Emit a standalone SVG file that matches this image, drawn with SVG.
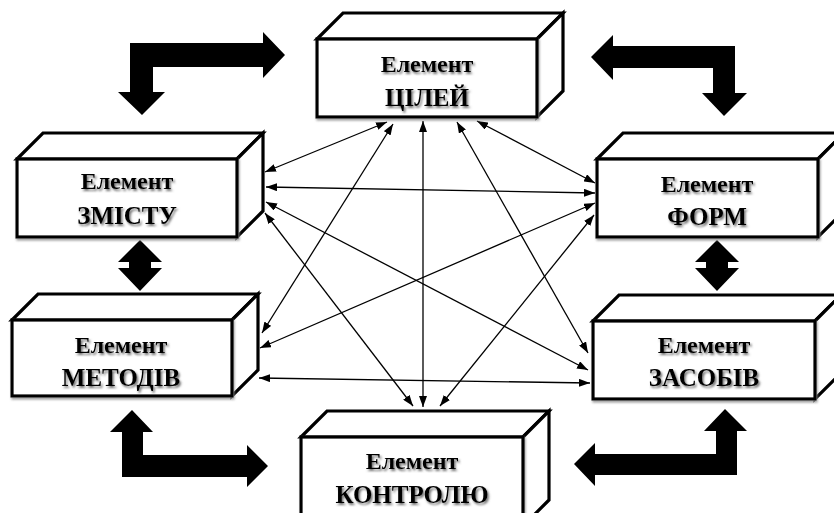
<svg xmlns="http://www.w3.org/2000/svg" width="834" height="513" viewBox="0 0 834 513">
<defs>
<style>
.face{fill:#fff;stroke:#000;stroke-width:3.2;stroke-linejoin:miter}
.t1{font-family:"Liberation Serif","Times New Roman",serif;font-weight:bold;font-size:24px;text-anchor:middle;fill:#000}
.t2{font-family:"Liberation Serif","Times New Roman",serif;font-weight:bold;font-size:25px;text-anchor:middle;fill:#000}
.ln{stroke:#000;stroke-width:1.3;fill:none;marker-start:url(#ah);marker-end:url(#ah)}
.blk{fill:#000;stroke:none}
</style>
<marker id="ah" viewBox="0 0 11 8" refX="11" refY="4" markerWidth="11" markerHeight="8" markerUnits="userSpaceOnUse" orient="auto-start-reverse">
<path d="M0,0 L11,4 L0,8 Z" fill="#000"/>
</marker>
<filter id="ts" x="-10%" y="-30%" width="130%" height="170%">
<feDropShadow dx="1.5" dy="2" stdDeviation="1.3" flood-color="#555" flood-opacity="0.85"/>
</filter>
<filter id="bs" x="-5%" y="-5%" width="115%" height="120%">
<feDropShadow dx="1" dy="2" stdDeviation="1.2" flood-color="#888" flood-opacity="0.8"/>
</filter>
</defs>
<rect width="834" height="513" fill="#fff"/>

<g id="connectors">
<line class="ln" x1="387" y1="122" x2="265" y2="172"/>
<line class="ln" x1="393" y1="124" x2="262" y2="333"/>
<line class="ln" x1="423" y1="121" x2="423" y2="407"/>
<line class="ln" x1="457" y1="122" x2="588" y2="353"/>
<line class="ln" x1="477" y1="121" x2="595" y2="183"/>
<line class="ln" x1="266" y1="187" x2="595" y2="193"/>
<line class="ln" x1="266" y1="202" x2="588" y2="370"/>
<line class="ln" x1="265" y1="213" x2="413" y2="406"/>
<line class="ln" x1="595" y1="203" x2="260" y2="348"/>
<line class="ln" x1="594" y1="215" x2="440" y2="406"/>
<line class="ln" x1="259" y1="378" x2="590" y2="383"/>
</g>

<g id="block-arrows">
<path class="blk" d="M130,43 L263,43 L263,32 L285,55 L263,78 L263,67 L153,67 L153,92 L165,92 L142,115 L118,92 L130,92 Z"/>
<path class="blk" d="M591,57 L613,35 L613,46 L735,46 L735,93 L747,93 L724,116 L702,93 L713,93 L713,68 L613,68 L613,80 Z"/>
<path class="blk" d="M132,410 L153,432 L143,432 L143,455 L247,455 L247,445 L268,466 L247,487 L247,477 L122,477 L122,432 L110,432 Z"/>
<path class="blk" d="M725,409 L747,431 L737,431 L737,475 L595,475 L595,486 L574,464 L595,443 L595,454 L716,454 L716,431 L704,431 Z"/>
<path class="blk" d="M140,240 L162,262 L151,262 L151,268 L162,268 L140,291 L118,268 L129,268 L129,262 L118,262 Z"/>
<path class="blk" d="M717,240 L739,262 L728,262 L728,268 L739,268 L717,291 L695,268 L706,268 L706,262 L695,262 Z"/>
</g>

<g id="node-goals">
<path class="face" d="M317,39 L343,13 L563,13 L537,39 Z"/>
<path class="face" d="M537,39 L563,13 L563,91 L537,117 Z"/>
<rect class="face" x="317" y="39" width="220" height="78" filter="url(#bs)"/>
<text class="t1" x="427" y="72" filter="url(#ts)">Елемент</text>
<text class="t2" x="427" y="106" filter="url(#ts)">ЦІЛЕЙ</text>
</g>

<g id="node-content">
<path class="face" d="M17,159 L43,133 L263,133 L237,159 Z"/>
<path class="face" d="M237,159 L263,133 L263,211 L237,237 Z"/>
<rect class="face" x="17" y="159" width="220" height="78" filter="url(#bs)"/>
<text class="t1" x="127" y="189" filter="url(#ts)">Елемент</text>
<text class="t2" x="127" y="224" filter="url(#ts)">ЗМІСТУ</text>
</g>

<g id="node-forms">
<path class="face" d="M597,159 L623,133 L844,133 L818,159 Z"/>
<path class="face" d="M818,159 L844,133 L844,211 L818,237 Z"/>
<rect class="face" x="597" y="159" width="221" height="78" filter="url(#bs)"/>
<text class="t1" x="707" y="192" filter="url(#ts)">Елемент</text>
<text class="t2" x="707" y="225" filter="url(#ts)">ФОРМ</text>
</g>

<g id="node-methods">
<path class="face" d="M12,320 L38,294 L258,294 L232,320 Z"/>
<path class="face" d="M232,320 L258,294 L258,370 L232,396 Z"/>
<rect class="face" x="12" y="320" width="220" height="76" filter="url(#bs)"/>
<text class="t1" x="121" y="353" filter="url(#ts)">Елемент</text>
<text class="t2" x="121" y="386" filter="url(#ts)">МЕТОДІВ</text>
</g>

<g id="node-means">
<path class="face" d="M593,321 L619,295 L841,295 L815,321 Z"/>
<path class="face" d="M815,321 L841,295 L841,373 L815,399 Z"/>
<rect class="face" x="593" y="321" width="222" height="78" filter="url(#bs)"/>
<text class="t1" x="704" y="353" filter="url(#ts)">Елемент</text>
<text class="t2" x="704" y="386" filter="url(#ts)">ЗАСОБІВ</text>
</g>

<g id="node-control">
<path class="face" d="M301,437 L327,411 L549,411 L523,437 Z"/>
<path class="face" d="M523,437 L549,411 L549,500 L523,526 Z"/>
<rect class="face" x="301" y="437" width="222" height="90" filter="url(#bs)"/>
<text class="t1" x="412" y="469" filter="url(#ts)">Елемент</text>
<text class="t2" x="412" y="503" filter="url(#ts)">КОНТРОЛЮ</text>
</g>
</svg>
